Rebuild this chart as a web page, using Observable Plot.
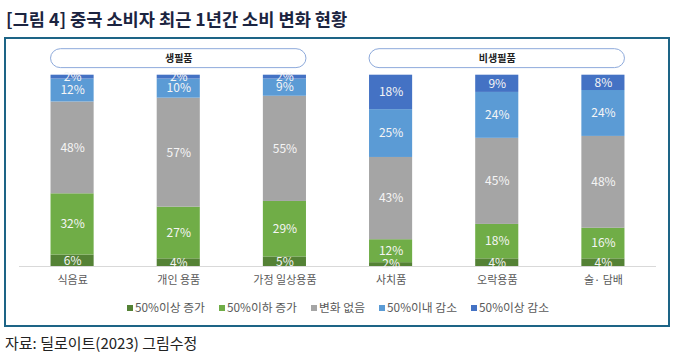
<!DOCTYPE html>
<html><head><meta charset="utf-8">
<script src="https://cdn.jsdelivr.net/npm/d3@7"></script>
<script src="https://cdn.jsdelivr.net/npm/@observablehq/plot@0.6"></script>
<style>
body{margin:0;width:676px;height:354px;position:relative;background:#fff;font-family:"Noto Sans CJK KR","Noto Sans",sans-serif;overflow:hidden}
#title{position:absolute;left:6px;top:10px;font-size:17.6px;line-height:18px;font-weight:bold;color:#1b2440;white-space:nowrap}
#box{position:absolute;left:4px;top:37px;width:666px;height:290px;box-sizing:border-box;border:2px solid #1d6486;pointer-events:none}
#chart{position:absolute;left:0;top:38px}
#legend{position:absolute;top:300px;left:0;width:676px;display:flex;justify-content:center;gap:14px;font-size:11.8px;line-height:13px;color:#595959;white-space:nowrap}
#legend span.sw{display:inline-block;width:6px;height:6px;margin-right:2px;vertical-align:1px}
#caption{position:absolute;left:5px;top:335px;font-size:15px;line-height:15px;color:#222;white-space:nowrap}
</style></head>
<body>
<div id="title">[그림 4] 중국 소비자 최근 1년간 소비 변화 현황</div>
<div id="chart"></div>
<div id="legend"></div>
<div id="box"></div>
<div id="caption">자료: 딜로이트(2023) 그림수정</div>
<script>
const categories = ["식음료","개인 용품","가정 일상용품","사치품","오락용품","술· 담배"];
const series = ["50%이상 증가","50%이하 증가","변화 없음","50%이내 감소","50%이상 감소"];
const inc50plus   = [6, 4, 5, 2, 4, 4];
const incUnder50  = [32, 27, 29, 12, 18, 16];
const noChange    = [48, 57, 55, 43, 45, 48];
const decWithin50 = [12, 10, 9, 25, 24, 24];
const dec50plus   = [2, 2, 2, 18, 9, 8];
const groupNames = ["생필품","비생필품"];
const groupStart = [0, 3];
const groupEnd   = [2, 5];
const colors = ["#548235","#70ad47","#a5a5a5","#5b9bd5","#4472c4"];

const seriesValues = [inc50plus, incUnder50, noChange, decWithin50, dec50plus];
const rows = [];
categories.forEach((c, i) => {
  let acc = 0;
  seriesValues.forEach((arr, k) => {
    const v = arr[i];
    rows.push({i, cat: c, series: series[k], value: v, y1: acc, y2: acc + v});
    acc += v;
  });
});
const groups = groupNames.map((n, j) => ({name: n, start: groupStart[j], end: groupEnd[j]}));

const hw = 0.203;
const pillLo = 103.7, pillHi = 113.6;

const plot = Plot.plot({
  width: 676, height: 288,
  marginLeft: 19, marginRight: 20, marginTop: 36.7, marginBottom: 60,
  style: {fontFamily: '"Noto Sans CJK KR", sans-serif', fontSize: "11px", color: "#595959", background: "transparent"},
  x: {domain: [-0.5, 5.5], ticks: categories.map((_, i) => i), tickFormat: i => categories[i], tickSize: 0, tickPadding: 10, label: null},
  y: {domain: [0, 100], axis: null},
  color: {domain: series, range: colors},
  marks: [
    Plot.ruleY([0], {stroke: "#d9d9d9", strokeWidth: 1}),
    Plot.rectY(rows, {x1: d => d.i - hw, x2: d => d.i + hw, y1: "y1", y2: "y2", fill: "series"}),
    Plot.text(rows, {x: "i", y: d => (d.y1 + d.y2) / 2, text: d => d.value + "%", fill: "#f5f5f5", fontSize: 12}),
    Plot.rect(groups, {x1: d => d.start - hw, x2: d => d.end + hw, y1: pillLo, y2: pillHi, rx: 10, fill: "white", stroke: "#8eaadb", strokeWidth: 1}),
    Plot.text(groups, {x: d => (d.start + d.end) / 2, y: (pillLo + pillHi) / 2, text: "name", fontWeight: "bold", fontSize: 10, fill: "#222"})
  ]
});
document.getElementById("chart").appendChild(plot);

const legend = document.getElementById("legend");
series.forEach((s, k) => {
  const item = document.createElement("div");
  item.innerHTML = `<span class="sw" style="background:${colors[k]}"></span>${s}`;
  legend.appendChild(item);
});
</script>
</body></html>
